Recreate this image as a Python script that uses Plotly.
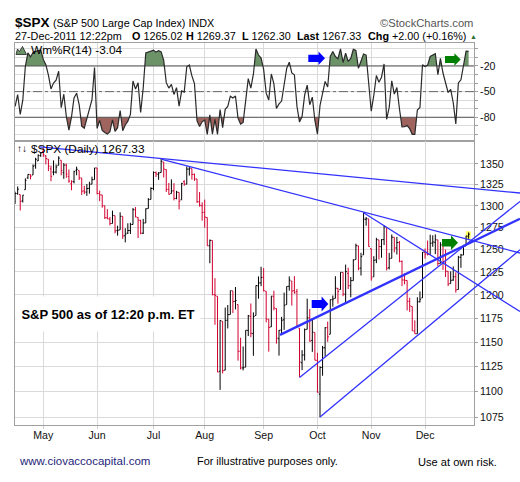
import numpy as np
import pandas as pd
import plotly.graph_objects as go

# ---------------- data ----------------
holidays = ["2011-04-22", "2011-05-30", "2011-07-04", "2011-09-05", "2011-11-24", "2011-12-26"]
dates = [d for d in pd.bdate_range("2011-04-14", "2011-12-27") if d.strftime("%Y-%m-%d") not in holidays]

opens = [
    1311.13, 1314.54, 1313.35, 1305.99, 1319.12, 1333.23, 1337.14, 1336.75, 1348.43, 1353.86, 1360.14,
    1365.21, 1359.76, 1355.90, 1344.16, 1340.24, 1340.20, 1348.34, 1354.51, 1339.39, 1348.69, 1334.77,
    1326.10, 1328.54, 1342.40, 1342.00, 1333.07, 1317.70, 1316.36, 1320.64, 1325.69, 1331.10,
    1345.20, 1314.55, 1312.94, 1300.26, 1286.31, 1284.63, 1279.63, 1288.60, 1271.61, 1272.22, 1287.87,
    1265.53, 1268.58, 1271.50, 1278.40, 1295.48, 1286.60, 1283.04, 1268.44, 1280.21, 1296.85, 1307.64,
    1320.64, 1339.59, 1337.56, 1339.62, 1352.39, 1343.31, 1319.61, 1314.45, 1317.74, 1308.87, 1315.94,
    1307.07, 1328.66, 1325.65, 1343.80, 1344.32, 1337.39, 1331.91, 1304.84, 1300.12,
    1292.59, 1286.56, 1254.25, 1260.23, 1200.28, 1198.48, 1120.23, 1171.77, 1121.30, 1172.87, 1178.86,
    1204.22, 1192.89, 1189.62, 1140.47, 1123.55, 1124.36, 1162.16, 1176.69, 1158.85, 1177.91, 1209.76, 1213.00,
    1219.12, 1203.90, 1173.97, 1165.85, 1197.98, 1185.37, 1153.50, 1162.59, 1173.32, 1189.44, 1209.21,
    1214.99, 1204.50, 1203.63, 1164.55, 1128.82, 1136.91, 1163.32, 1175.39, 1151.74, 1159.93,
    1131.21, 1097.42, 1124.03, 1144.11, 1165.03, 1158.15, 1194.60, 1196.19, 1206.96, 1205.65, 1224.47,
    1200.75, 1223.46, 1209.92, 1215.39, 1238.72, 1254.19, 1229.17, 1243.97, 1284.39, 1284.96,
    1251.00, 1219.62, 1238.25, 1260.82, 1253.21, 1261.12, 1275.18, 1229.59, 1240.12, 1263.85, 1251.70,
    1257.81, 1236.56, 1216.19, 1215.62, 1192.98, 1187.48, 1161.41, 1158.67, 1192.56, 1196.72,
    1246.91, 1246.03, 1244.33, 1257.19, 1258.14, 1260.87, 1234.48, 1255.05, 1236.83, 1225.73, 1212.12,
    1216.09, 1219.74, 1205.72, 1241.25, 1243.72, 1254.00, 1265.02,
]
highs = [
    1316.79, 1322.88, 1313.35, 1312.70, 1332.66, 1337.49, 1337.55, 1349.55, 1357.49, 1361.71, 1364.56,
    1370.58, 1360.84, 1355.90, 1348.00, 1354.36, 1349.44, 1359.44, 1354.51, 1351.05, 1350.47, 1343.33,
    1330.42, 1341.82, 1346.82, 1342.00, 1333.07, 1323.72, 1325.86, 1328.51, 1334.62, 1345.20,
    1345.20, 1318.03, 1312.94, 1300.26, 1296.22, 1287.04, 1294.54, 1288.60, 1277.04, 1292.50, 1287.87,
    1274.11, 1279.82, 1280.42, 1297.62, 1298.61, 1286.79, 1283.93, 1284.91, 1296.98, 1309.21, 1321.97,
    1341.01, 1340.89, 1340.12, 1356.48, 1352.39, 1343.31, 1327.17, 1331.48, 1326.88, 1317.70, 1315.94,
    1327.16, 1330.43, 1347.00, 1346.10, 1344.32, 1338.51, 1331.91, 1316.32, 1304.15,
    1307.38, 1286.56, 1261.20, 1260.23, 1218.11, 1198.48, 1172.88, 1171.77, 1186.29, 1189.04, 1204.49,
    1204.22, 1208.47, 1189.62, 1154.54, 1145.49, 1162.35, 1178.47, 1190.68, 1181.23, 1210.28, 1220.06, 1230.71,
    1229.29, 1203.90, 1173.97, 1198.62, 1204.47, 1185.37, 1162.52, 1176.41, 1202.38, 1209.11, 1220.06,
    1214.99, 1220.39, 1206.30, 1164.55, 1141.72, 1164.18, 1195.86, 1184.71, 1175.05, 1159.93,
    1138.99, 1125.12, 1146.07, 1165.55, 1171.40, 1194.91, 1199.24, 1220.25, 1207.46, 1224.61, 1224.47,
    1233.10, 1229.64, 1219.36, 1239.03, 1256.55, 1254.19, 1246.28, 1292.66, 1287.08, 1284.96,
    1251.00, 1242.48, 1263.21, 1260.82, 1261.70, 1277.55, 1275.18, 1246.22, 1266.98, 1263.85, 1264.25,
    1259.61, 1237.73, 1223.51, 1215.62, 1196.81, 1187.48, 1172.66, 1197.35, 1203.67, 1247.11,
    1251.09, 1260.08, 1266.73, 1266.03, 1267.06, 1260.87, 1258.25, 1255.05, 1249.86, 1225.73, 1225.60,
    1231.04, 1224.57, 1242.82, 1245.09, 1255.22, 1265.42, 1269.37,
]
lows = [
    1302.42, 1313.09, 1294.70, 1303.97, 1319.12, 1332.03, 1331.47, 1336.75, 1344.25, 1353.60, 1358.69,
    1358.59, 1349.52, 1341.50, 1329.17, 1336.36, 1338.49, 1348.34, 1336.36, 1332.06, 1333.36, 1327.32,
    1318.51, 1326.59, 1336.36, 1330.67, 1312.87, 1313.87, 1311.80, 1314.41, 1325.69, 1331.10,
    1313.71, 1305.61, 1297.90, 1284.89, 1284.74, 1277.41, 1279.63, 1268.28, 1265.64, 1272.22, 1261.90,
    1258.07, 1267.40, 1267.56, 1278.40, 1286.79, 1262.87, 1267.21, 1267.53, 1280.21, 1296.85, 1307.64,
    1318.49, 1334.30, 1330.92, 1339.62, 1333.71, 1316.42, 1313.33, 1314.45, 1306.51, 1307.77, 1295.92,
    1307.07, 1323.74, 1325.65, 1336.00, 1331.09, 1329.59, 1303.49, 1299.16, 1282.86,
    1274.73, 1254.05, 1234.56, 1199.54, 1168.09, 1119.28, 1101.54, 1118.01, 1121.30, 1164.21, 1178.86,
    1180.53, 1184.36, 1131.00, 1122.05, 1121.09, 1124.36, 1156.30, 1155.10, 1135.91, 1177.91, 1195.78, 1209.35,
    1203.85, 1170.56, 1140.13, 1165.85, 1183.34, 1148.37, 1136.07, 1157.40, 1162.73, 1189.44, 1204.46,
    1188.44, 1201.29, 1166.21, 1114.22, 1121.39, 1131.07, 1163.32, 1150.40, 1139.93, 1131.34,
    1098.92, 1074.77, 1115.68, 1134.95, 1150.26, 1158.15, 1187.30, 1196.19, 1190.58, 1205.65, 1198.55,
    1191.48, 1206.31, 1197.34, 1215.39, 1238.72, 1226.79, 1221.06, 1243.97, 1277.01, 1253.16,
    1215.42, 1219.62, 1234.72, 1238.90, 1240.75, 1254.99, 1226.64, 1227.70, 1240.12, 1246.72, 1244.34,
    1235.67, 1209.43, 1211.36, 1183.24, 1181.65, 1161.79, 1158.66, 1158.67, 1191.80, 1196.72,
    1239.73, 1243.35, 1244.33, 1253.03, 1244.80, 1231.47, 1234.48, 1227.25, 1219.43, 1209.47, 1212.12,
    1215.20, 1202.37, 1205.72, 1229.51, 1243.72, 1254.00, 1262.30,
]
closes = [
    1314.52, 1319.68, 1305.14, 1312.62, 1330.36, 1337.38, 1335.25, 1347.24, 1355.66, 1360.48, 1363.61,
    1361.22, 1356.62, 1347.32, 1335.10, 1340.20, 1346.29, 1357.16, 1342.08, 1348.65, 1337.77, 1329.47,
    1328.98, 1340.68, 1343.60, 1333.27, 1317.37, 1316.28, 1320.47, 1325.69, 1331.10, 1345.20,
    1314.55, 1312.94, 1300.16, 1286.17, 1284.94, 1279.56, 1289.00, 1270.98, 1271.83, 1287.87, 1265.42,
    1267.64, 1271.50, 1278.36, 1295.52, 1287.14, 1283.50, 1268.45, 1280.10, 1296.67, 1307.41, 1320.64,
    1339.67, 1337.88, 1339.22, 1353.22, 1343.80, 1319.49, 1313.64, 1317.72, 1308.87, 1316.14, 1305.44,
    1326.73, 1325.84, 1343.80, 1345.02, 1337.43, 1331.94, 1304.89, 1300.67, 1292.28,
    1286.94, 1254.05, 1260.34, 1200.07, 1199.38, 1119.46, 1172.53, 1120.76, 1172.64, 1178.81, 1204.49,
    1192.76, 1193.89, 1140.65, 1123.53, 1123.82, 1162.35, 1177.60, 1159.27, 1176.80, 1210.08, 1212.92, 1218.89,
    1204.42, 1173.97, 1165.24, 1198.62, 1185.90, 1154.23, 1162.27, 1172.87, 1188.68, 1209.11, 1216.01,
    1204.09, 1202.09, 1166.76, 1129.56, 1136.43, 1162.95, 1175.38, 1151.06, 1160.40, 1131.42,
    1099.23, 1123.95, 1144.03, 1164.97, 1155.46, 1194.89, 1195.54, 1207.25, 1203.66, 1224.58, 1200.86,
    1225.38, 1209.88, 1215.39, 1238.25, 1254.19, 1229.05, 1242.00, 1284.59, 1285.09, 1253.30,
    1218.28, 1237.90, 1261.15, 1253.23, 1261.12, 1275.92, 1229.10, 1239.70, 1263.85, 1251.78, 1257.81,
    1236.91, 1216.13, 1215.65, 1192.98, 1188.04, 1161.79, 1158.67, 1192.55, 1195.19, 1246.96,
    1244.58, 1244.28, 1257.08, 1258.47, 1261.01, 1234.35, 1255.19, 1236.47, 1225.73, 1211.82, 1215.75,
    1219.66, 1205.35, 1241.30, 1243.72, 1254.00, 1265.33, 1267.33,
]
# Williams %R (14) as plotted in the upper panel
wmr = [
    -67.3, -53.4, -76.7, -60, -20.3, -4.6, -9.4, -4.2, -2.9, -1.8, -1.4, -12.3, -18.4, -30.7, -46.8, -40,
    -36.5, -26.1, -68.8, -53, -79.2, -95, -79.9, -57.4, -51.8, -65.1, -90.3, -92.7, -81.8, -70.8, -59.5,
    -21.8, -93, -83.7, -95.4, -97.9, -99.7, -96.9, -82.9, -96.5, -92.2, -72.1, -95.8, -89, -84.6, -76.7,
    -37.5, -47, -39.7, -74.4, -45.7, -4.8, -3.5, -2.1, -1.6, -3.8, -2.2, -3.5, -13.5, -39.5, -45.8, -41.4,
    -53.3, -45.4, -66.9, -49.1, -50.6, -20.9, -18.9, -31.5, -40.5, -84.1, -90.7, -85.3, -83.1, -100, -77.1,
    -99.6, -82.5, -99.9, -71.1, -92.1, -70.7, -67.4, -55.3, -57.5, -55.1, -81, -88.1, -86, -61.7, -34.8,
    -46, -29.6, -0.2, -7.2, -10.8, -24, -51.8, -59.7, -29.3, -40.9, -69.8, -64.4, -61, -44.3, -22.8, -15.5,
    -28.1, -30.2, -67.1, -85.6, -79.1, -54.1, -42.4, -65.3, -56.5, -83.8, -99.7, -66.2, -52.4, -38.1, -44.6,
    -8.7, -3, -8.9, -11.4, -0, -15.9, -4.9, -14.7, -11.2, -0.5, -1.7, -22.6, -13.7, -6, -7.2, -38.6, -72.9,
    -54.1, -31.1, -39, -33.1, -17.6, -82.3, -68.6, -37.3, -52.9, -45.1, -70, -91.1, -90.9, -89.7, -93.3,
    -100, -100, -71.5, -68.6, -18.5, -20.7, -18.9, -8.9, -7.6, -5.6, -30.2, -11, -28.2, -38.1, -51, -47.3,
    -63, -87.7, -39.8, -36.1, -20.2, -2.7, -3,
]

price_ticks = [1075, 1100, 1125, 1150, 1175, 1200, 1225, 1250, 1275, 1300, 1325, 1350]
wmr_labels = [-20, -50, -80]

# trend lines drawn by the chartist: (start index, start price, end index, end price)
trend_x0 = [9.7, 57.34, 136.0, 103.4, 111.0, 119.0]
trend_y0 = [1370.9, 1355.7, 1292.0, 1157.5, 1114.0, 1075.0]
trend_x1 = [197.05, 197.05, 197.05, 197.05, 197.05, 197.05]
trend_y1 = [1315.2, 1246.0, 1182.1, 1285.1, 1305.3, 1249.7]
trend_w = [1.3, 1.3, 1.3, 2.3, 1.3, 1.3]

n = len(closes)
assert len(dates) == n == len(opens) == len(highs) == len(lows) == len(wmr)

# ---------------- geometry ----------------
W, H = 520, 482
ML, MR, MT, MB = 15, 0, 43, 57
PW, PH = W - ML - MR, H - MT - MB
MAIN_R = 459.0 / PW
SPLIT = 284.3 / PH
XMIN, XMAX = -0.04, 179.1
XMAX3 = XMIN + (XMAX - XMIN) / MAIN_R


def px(v):
    return (v - ML) / PW


def py(v):
    return (H - MB - v) / PH


idx = np.arange(n)
month_idx = [i for i in range(1, n) if dates[i].month != dates[i - 1].month]
month_txt = [dates[i].strftime("%b") for i in month_idx]

prev = [opens[0]] + closes[:-1]
up = [i for i in range(n) if closes[i] >= prev[i]]
dn = [i for i in range(n) if closes[i] < prev[i]]

FONT = "Liberation Sans, Arial, sans-serif"
GRID = "#dadada"
FRAME = "#a0a0a0"
BLUE = "rgb(50,50,255)"

fig = go.Figure()


# ---- Wm%R fills ----
def fill_pts(vals, level, above):
    xs, ys = [], []
    for i in range(len(vals)):
        if i > 0:
            a, b = vals[i - 1], vals[i]
            if (a - level) * (b - level) < 0:
                t = (level - a) / (b - a)
                xs.append(i - 1 + t)
                ys.append(level)
        xs.append(i)
        ys.append(vals[i])
    ys = [max(v, level) if above else min(v, level) for v in ys]
    return xs, ys


for level, above, col in [(-20, True, "rgb(108,146,104)"), (-80, False, "rgb(160,100,94)")]:
    xs, ys = fill_pts(wmr, level, above)
    fig.add_trace(go.Scatter(x=xs, y=[level] * len(xs), mode="lines", line=dict(width=0),
                             xaxis="x", yaxis="y", hoverinfo="skip", showlegend=False))
    fig.add_trace(go.Scatter(x=xs, y=ys, mode="lines", line=dict(width=0), fill="tonexty",
                             fillcolor=col, xaxis="x", yaxis="y", hoverinfo="skip", showlegend=False))

for level, dash, col in [(-20, "solid", "#555555"), (-80, "solid", "#555555"), (-50, "dashdot", "#666666")]:
    fig.add_trace(go.Scatter(x=[XMIN, XMAX], y=[level, level], mode="lines",
                             line=dict(color=col, width=1, dash=dash),
                             xaxis="x", yaxis="y", hoverinfo="skip", showlegend=False))

fig.add_trace(go.Scatter(x=idx, y=wmr, mode="lines", line=dict(color="#2a2a2a", width=1.2),
                         xaxis="x", yaxis="y", hoverinfo="skip", showlegend=False))

# ---- price bars ----
for sel, col in [(up, "#000000"), (dn, "#d2002e")]:
    fig.add_trace(go.Ohlc(
        x=[int(i) for i in sel], open=[opens[i] for i in sel], high=[highs[i] for i in sel],
        low=[lows[i] for i in sel], close=[closes[i] for i in sel],
        increasing=dict(line=dict(color=col, width=1)), decreasing=dict(line=dict(color=col, width=1)),
        tickwidth=0.45, xaxis="x2", yaxis="y2", hoverinfo="skip", showlegend=False))

# ---- trend lines ----
for x0, y0, x1, y1, w in zip(trend_x0, trend_y0, trend_x1, trend_y1, trend_w):
    fig.add_trace(go.Scatter(x=[x0, x1], y=[y0, y1], mode="lines", line=dict(color=BLUE, width=w),
                             xaxis="x3", yaxis="y3", hoverinfo="skip", showlegend=False))

shapes = []
# latest bar highlight
shapes.append(dict(type="rect", xref="x2", yref="y2", x0=n - 2.1, x1=n - 0.2,
                   y0=lows[-1] - 0.6, y1=highs[-1] + 1.2, fillcolor="#ffff66", line=dict(width=0),
                   layer="below"))


def arrow(x0, x1, yc, hh, sh, hl, color):
    xs = x1 - hl
    pts = [(x0, yc - sh), (xs, yc - sh), (xs, yc - hh), (x1, yc), (xs, yc + hh), (xs, yc + sh), (x0, yc + sh)]
    path = "M " + " L ".join(f"{px(a):.5f},{py(b):.5f}" for a, b in pts) + " Z"
    return dict(type="path", xref="paper", yref="paper", path=path, fillcolor=color,
                line=dict(width=0), layer="above")


shapes.append(arrow(308.3, 325.0, 58.3, 6.7, 3.6, 6.5, "#0000ff"))
shapes.append(arrow(445.0, 460.7, 59.5, 6.3, 3.5, 6.3, "#008000"))
shapes.append(arrow(311.7, 328.3, 304.0, 7.5, 4.0, 6.7, "#0000ff"))
shapes.append(arrow(442.0, 458.0, 242.8, 7.3, 3.7, 7.0, "#008000"))

# Wm%R icon (small mountain)
icon = [(16, 54.5), (17.5, 49), (19.5, 51.5), (22.5, 46.5), (26.5, 54.5)]
shapes.append(dict(type="path", xref="paper", yref="paper",
                   path="M " + " L ".join(f"{px(a):.5f},{py(b):.5f}" for a, b in icon) + " Z",
                   fillcolor="rgb(108,146,104)", line=dict(color="#222", width=0.8), layer="above"))

ann = []


def text(x, y, s, size=11, color="#000", anchor="left", bold=False, **kw):
    if bold:
        s = "<b>" + s + "</b>"
    ann.append(dict(x=px(x), y=py(y), xref="paper", yref="paper", text=s, showarrow=False,
                    xanchor=anchor, yanchor="middle", font=dict(family=FONT, size=size, color=color), **kw))


text(13, 22.5, "$SPX", size=13.5, bold=True)
text(51, 23, "(S&P 500 Large Cap Index) INDX", size=10.8)
text(475, 23, "©StockCharts.com", size=11.2, color="#555", anchor="right")
text(13, 36, "27-Dec-2011 12:22pm", size=10.8)
text(130, 36, "<b>O</b> 1265.02", size=10.8)
text(183.5, 36, "<b>H</b> 1269.37", size=10.8)
text(239.5, 36, "<b>L</b> 1262.30", size=10.8)
text(294.5, 36, "<b>Last</b> 1267.33", size=10.8)
text(366, 36, "<b>Chg</b> +2.00 (+0.16%)", size=10.8)
text(468, 36.5, "▲", size=7, color="#2f6f2f")
text(29, 50, "Wm%R(14) -3.04", size=11.8)
text(15, 148.5, "↑↓", size=10)
text(28.5, 148.5, "$SPX (Daily) 1267.33", size=11.8)
text(107.5, 314, "S&P 500 as of 12:20 p.m. ET", size=13, anchor="center", bold=True,
     bgcolor="#ffffff", width=178, height=28, borderpad=3)
text(16.5, 461, "www.ciovaccocapital.com", size=11.5, color="#26267a")
text(195, 461, "For illustrative purposes only.", size=10.9)
text(416, 462, "Use at own risk.", size=11.1)

axis_common = dict(showgrid=True, gridcolor=GRID, gridwidth=1, showline=True, linecolor=FRAME,
                   linewidth=1, mirror=True, zeroline=False)

fig.update_layout(
    width=W, height=H, margin=dict(l=ML, r=MR, t=MT, b=MB, pad=0, autoexpand=False),
    paper_bgcolor="#ffffff", plot_bgcolor="rgba(0,0,0,0)", showlegend=False,
    font=dict(family=FONT, size=11, color="#111"),
    xaxis=dict(domain=[0, MAIN_R], anchor="y", range=[XMIN, XMAX], tickvals=month_idx,
               showticklabels=False, ticks="", automargin=False, **axis_common),
    yaxis=dict(domain=[SPLIT, 1], anchor="x", range=[-107.4, 6.9], side="right",
               tickvals=list(range(-100, 1, 10)),
               ticktext=[str(v) if v in wmr_labels else "" for v in range(-100, 1, 10)],
               ticks="outside", ticklen=3, tickcolor=FRAME, tickfont=dict(size=10.6, color="#111"),
               automargin=False, **axis_common),
    xaxis2=dict(domain=[0, MAIN_R], anchor="y2", range=[XMIN, XMAX], tickvals=month_idx, ticktext=month_txt,
                ticks="outside", ticklen=3, tickcolor="#cfcfcf", ticklabelstandoff=-3,
                tickfont=dict(size=10.6, color="#111"), rangeslider=dict(visible=False),
                automargin=False, **axis_common),
    yaxis2=dict(domain=[0, SPLIT], anchor="x2", type="log",
                range=[np.log10(1067.3), np.log10(1378.6)], side="right", tickvals=price_ticks,
                ticktext=[str(v) for v in price_ticks],
                ticks="outside", ticklen=3, tickcolor=FRAME, tickfont=dict(size=10.6, color="#111"),
                automargin=False, **axis_common),
    xaxis3=dict(domain=[0, 1], anchor="y3", range=[XMIN, XMAX3], visible=False, showgrid=False),
    yaxis3=dict(domain=[0, SPLIT], anchor="x3", type="log", range=[np.log10(1067.3), np.log10(1378.6)],
                visible=False, showgrid=False),
    shapes=shapes, annotations=ann,
)

fig.write_html("out.html", config={"displayModeBar": False, "staticPlot": True},
               post_script="document.body.style.margin='0';document.body.style.padding='0';")
